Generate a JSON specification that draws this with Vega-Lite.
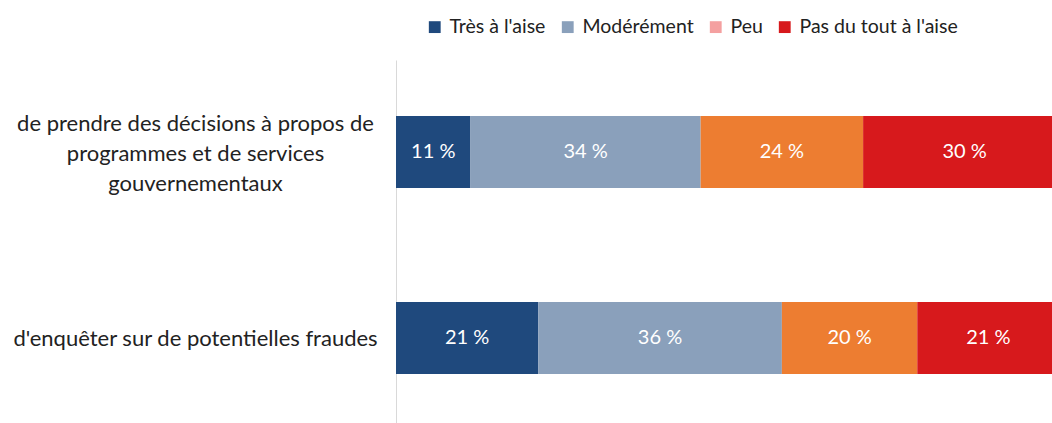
{
"$schema": "https://vega.github.io/schema/vega-lite/v6.json",
"width": 656,
"height": 370,
"autosize": {"type": "none"},
"padding": {"left": 396, "top": 60, "right": 0, "bottom": 0},
"background": "white",
"config": {"view": {"stroke": null}, "font": "Lato"},
"data": {"values": [
{"question": "de prendre des décisions à propos de|programmes et de services|gouvernementaux", "cat": "Très à l'aise", "ord": 1, "pct": 11},
{"question": "de prendre des décisions à propos de|programmes et de services|gouvernementaux", "cat": "Modérément", "ord": 2, "pct": 34},
{"question": "de prendre des décisions à propos de|programmes et de services|gouvernementaux", "cat": "Peu", "ord": 3, "pct": 24},
{"question": "de prendre des décisions à propos de|programmes et de services|gouvernementaux", "cat": "Pas du tout à l'aise", "ord": 4, "pct": 30},
{"question": "d'enquêter sur de potentielles fraudes", "cat": "Très à l'aise", "ord": 1, "pct": 21},
{"question": "d'enquêter sur de potentielles fraudes", "cat": "Modérément", "ord": 2, "pct": 36},
{"question": "d'enquêter sur de potentielles fraudes", "cat": "Peu", "ord": 3, "pct": 20},
{"question": "d'enquêter sur de potentielles fraudes", "cat": "Pas du tout à l'aise", "ord": 4, "pct": 21}
]},
"transform": [
{"stack": "pct", "groupby": ["question"], "sort": [{"field": "ord"}], "as": ["x0", "x1"]},
{"calculate": "(datum.x0 + datum.x1) / 2", "as": "xm"},
{"calculate": "datum.pct + ' %'", "as": "label"}
],
"encoding": {
"y": {"field": "question", "type": "nominal",
"sort": ["de prendre des décisions à propos de|programmes et de services|gouvernementaux", "d'enquêter sur de potentielles fraudes"],
"scale": {"paddingInner": 0.613, "paddingOuter": 0.301},
"axis": {"title": null, "domain": true, "domainColor": "#d9d9d9", "domainWidth": 1, "ticks": false, "grid": false,
"labelFontSize": 22, "labelColor": "#222222", "labelAlign": "center", "labelPadding": 201, "labelLineHeight": 30,
"labelOffset": {"condition": {"test": "indexof(datum.label, '|') >= 0", "value": -28}, "value": 1},
"labelLimit": 500, "labelExpr": "split(datum.label, '|')"}}
},
"layer": [
{"mark": {"type": "bar", "clip": true},
"encoding": {
"x": {"field": "x0", "type": "quantitative", "scale": {"domain": [0, 96.9], "nice": false, "zero": true}, "axis": null},
"x2": {"field": "x1"},
"color": {"field": "cat", "type": "nominal",
"scale": {"domain": ["Très à l'aise", "Modérément", "Peu", "Pas du tout à l'aise"], "range": ["#1f497d", "#8aa0bb", "#ed7d31", "#d7191c"]},
"legend": null}
}},
{"mark": {"type": "text", "color": "white", "fontSize": 20, "clip": true},
"encoding": {
"x": {"field": "xm", "type": "quantitative"},
"text": {"field": "label"}
}},
{"mark": {"type": "square", "opacity": 0},
"encoding": {
"x": {"field": "xm", "type": "quantitative"},
"color": {"field": "cat", "type": "nominal",
"scale": {"domain": ["Très à l'aise", "Modérément", "Peu", "Pas du tout à l'aise"], "range": ["#1f497d", "#8aa0bb", "#f4a0a0", "#d7191c"]},
"legend": {"title": null, "orient": "none", "legendX": 29, "legendY": -43, "direction": "horizontal",
"symbolType": "square", "symbolSize": 140, "symbolOpacity": 1, "symbolStrokeWidth": 0,
"labelFontSize": 19.5, "labelColor": "#222222", "columnPadding": 12, "labelOffset": 5}}
}}
],
"resolve": {"scale": {"color": "independent"}}
}
